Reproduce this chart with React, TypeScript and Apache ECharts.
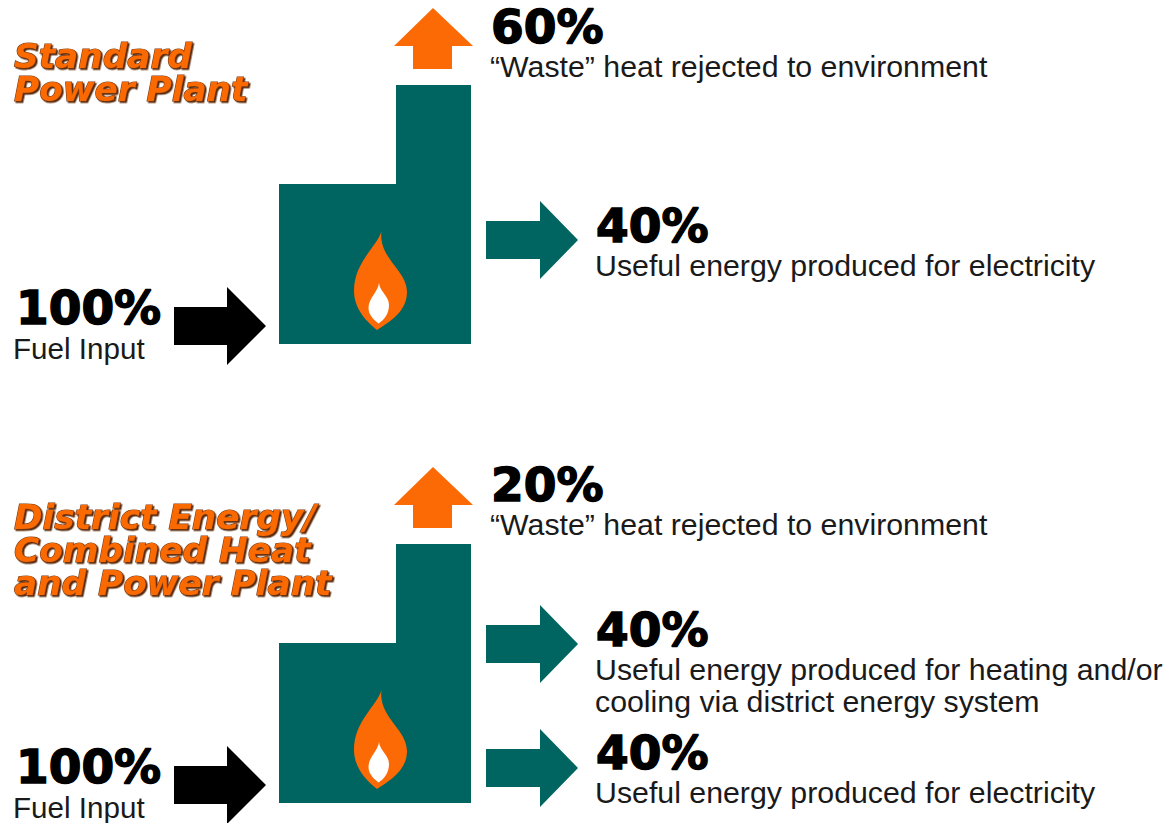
import React, { useEffect, useRef } from "react";
import * as echarts from "echarts";

const standardTitle = ["Standard", "Power Plant"];
const districtTitle = ["District Energy/", "Combined Heat", "and Power Plant"];
const inputValue = "100%";
const inputLabel = "Fuel Input";
const wasteLabel = "“Waste” heat rejected to environment";
const electricityLabel = "Useful energy produced for electricity";
const heatingLabel = ["Useful energy produced for heating and/or", "cooling via district energy system"];
const standardWaste = "60%";
const districtWaste = "20%";
const usefulShare = "40%";

const TEAL = "#006461";
const ORANGE = "#fb6a05";
const BIG = "DejaVu Sans";
const BODY = "'Liberation Sans', Arial, sans-serif";

const FLAME_OUTER =
  "M381.5 231 C377 247 354 262 354 291 C354 309 367 322 377 330 C389 322 407 312 407 292 C407 270 378 258 381.5 231 Z";
const FLAME_INNER =
  "M379 283 C378 292 368.5 298 368.5 308 C368.5 315 374 320 378.5 323.5 C384 320 389 314 389 305 C389 296 380 292 379 283 Z";
echarts.graphic.registerShape("flameOuter", (echarts.graphic as any).extendPath(FLAME_OUTER, {}));
echarts.graphic.registerShape("flameInner", (echarts.graphic as any).extendPath(FLAME_INNER, {}));

function big(text: string, x: number, y: number) {
  return {
    type: "text", x, y, silent: true,
    style: { text, fill: "#000", font: `bold 47px ${BIG}`, stroke: "#000", lineWidth: 1.5, align: "left", verticalAlign: "middle" },
  };
}
function body(text: string, x: number, y: number, size = 30.3) {
  return {
    type: "text", x, y, silent: true,
    style: { text, fill: "#1a1a1a", font: `${size}px ${BODY}`, align: "left", verticalAlign: "middle" },
  };
}
function title(text: string, y: number) {
  return {
    type: "text", x: 14, y, scaleX: 1.04, silent: true,
    style: {
      text, fill: ORANGE, font: `italic bold 33px ${BIG}`,
      stroke: "#7d3a10", lineWidth: 1.2,
      textShadowColor: "#5a2a0c", textShadowBlur: 1, textShadowOffsetX: 1.5, textShadowOffsetY: 1.5,
      align: "left", verticalAlign: "middle",
    },
  };
}
function poly(points: number[][], fill: string) {
  return { type: "polygon", silent: true, shape: { points }, style: { fill } };
}
function rightArrow(x0: number, x1: number, tip: number, yc: number, hw: number, hh: number, fill: string) {
  return poly(
    [[x0, yc - hw], [x1, yc - hw], [x1, yc - hh], [tip, yc], [x1, yc + hh], [x1, yc + hw], [x0, yc + hw]],
    fill,
  );
}
function plant(dy: number) {
  return [
    poly([[279, 184 + dy], [396, 184 + dy], [396, 85 + dy], [471, 85 + dy], [471, 344 + dy], [279, 344 + dy]], TEAL),
    poly(
      [[433, 8 + dy], [473, 46 + dy], [452, 46 + dy], [452, 69 + dy], [413, 69 + dy], [413, 46 + dy], [394, 46 + dy]],
      ORANGE,
    ),
    rightArrow(174, 227, 266, 326 + dy, 19, 39, "#000"),
    { type: "flameOuter", x: 0, y: dy, silent: true, style: { fill: ORANGE } },
    { type: "flameInner", x: 0, y: dy, silent: true, style: { fill: "#fff" } },
    big(inputValue, 16, 307.5 + dy),
    body(inputLabel, 13, 348.5 + dy, 29.6),
  ];
}

export default function App() {
  const ref = useRef<HTMLDivElement>(null);
  useEffect(() => {
    document.body.style.margin = "0";
    const chart = echarts.init(ref.current!, null, { renderer: "svg" });
    chart.setOption({
      animation: false,
      backgroundColor: "#fff",
      graphic: {
        elements: [
          ...standardTitle.map((t, i) => title(t, 57 + i * 33)),
          ...districtTitle.map((t, i) => title(t, 518 + i * 33)),
          ...plant(0),
          ...plant(459),
          big(standardWaste, 491, 26),
          body(wasteLabel, 490, 66),
          rightArrow(486, 540, 578, 240, 19, 39, TEAL),
          big(usefulShare, 596, 225),
          body(electricityLabel, 595, 265.5),
          big(districtWaste, 491, 484),
          body(wasteLabel, 490, 524.5),
          rightArrow(486, 540, 578, 644, 19, 39, TEAL),
          big(usefulShare, 596, 629),
          body(heatingLabel[0], 595, 669.5),
          body(heatingLabel[1], 595, 701.5),
          rightArrow(486, 540, 578, 768, 19, 39, TEAL),
          big(usefulShare, 596, 752),
          body(electricityLabel, 595, 792.5),
        ],
      },
    });
    return () => chart.dispose();
  }, []);
  return <div ref={ref} style={{ width: 1171, height: 823 }} />;
}
